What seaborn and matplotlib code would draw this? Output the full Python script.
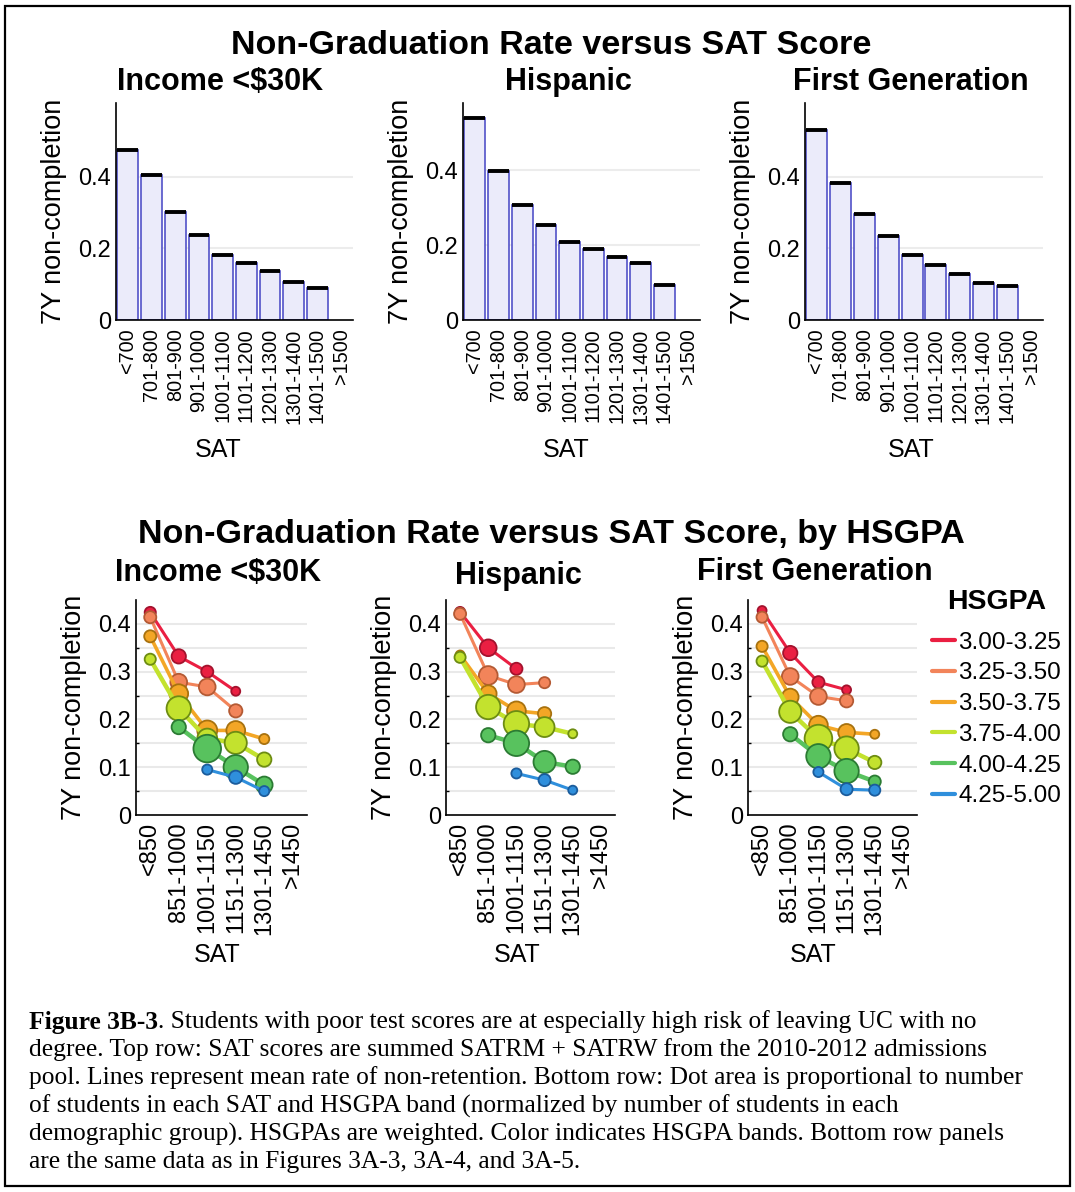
import numpy as np
import pandas as pd
import matplotlib
matplotlib.use('Agg')
import matplotlib.pyplot as plt
import seaborn as sns
from matplotlib.lines import Line2D
from matplotlib.patches import Rectangle

nan = np.nan

# ---- data ----
groups = ['Income <$30K', 'Hispanic', 'First Generation']

sat_top = ['<700', '701-800', '801-900', '901-1000', '1001-1100', '1101-1200',
           '1201-1300', '1301-1400', '1401-1500', '>1500']
inc_top = [0.473, 0.403, 0.301, 0.236, 0.180, 0.160, 0.138, 0.105, 0.090, nan]
his_top = [0.538, 0.397, 0.306, 0.253, 0.208, 0.190, 0.167, 0.151, 0.093, nan]
gen_top = [0.531, 0.382, 0.296, 0.235, 0.182, 0.154, 0.128, 0.103, 0.095, nan]

sat_bot = ['<850', '851-1000', '1001-1150', '1151-1300', '1301-1450', '>1450']
hsgpa = ['3.00-3.25', '3.25-3.50', '3.50-3.75', '3.75-4.00', '4.00-4.25', '4.25-5.00']

# non-completion rate, one row per HSGPA band
inc_rate = [
    [0.424, 0.332, 0.300, 0.259, nan, nan],
    [0.414, 0.278, 0.268, 0.218, nan, nan],
    [0.374, 0.254, 0.177, 0.177, 0.159, nan],
    [0.326, 0.223, 0.160, 0.151, 0.116, nan],
    [nan, 0.184, 0.139, 0.100, 0.063, nan],
    [nan, nan, 0.095, 0.079, 0.050, nan],
]
his_rate = [
    [0.425, 0.350, 0.306, nan, nan, nan],
    [0.421, 0.292, 0.273, 0.277, nan, nan],
    [0.335, 0.254, 0.218, 0.212, nan, nan],
    [0.330, 0.226, 0.191, 0.184, 0.170, nan],
    [nan, 0.167, 0.150, 0.111, 0.101, nan],
    [nan, nan, 0.087, 0.073, 0.052, nan],
]
gen_rate = [
    [0.428, 0.339, 0.278, 0.262, nan, nan],
    [0.414, 0.290, 0.248, 0.239, nan, nan],
    [0.353, 0.247, 0.188, 0.173, 0.169, nan],
    [0.322, 0.216, 0.160, 0.139, 0.110, nan],
    [nan, 0.169, 0.123, 0.092, 0.070, nan],
    [nan, nan, 0.090, 0.054, 0.052, nan],
]

# share of students (%) in each SAT x HSGPA cell -> dot area
inc_share = [
    [1.7, 2.8, 2.0, 1.1, nan, nan],
    [2.0, 3.8, 3.8, 2.4, nan, nan],
    [2.0, 4.8, 5.4, 4.8, 1.4, nan],
    [1.7, 8.1, 5.4, 6.7, 2.8, nan],
    [nan, 2.8, 10.4, 8.1, 3.8, nan],
    [nan, nan, 1.4, 2.4, 1.4, nan],
]
his_share = [
    [1.4, 3.8, 2.0, nan, nan, nan],
    [2.0, 4.8, 3.8, 1.7, nan, nan],
    [1.1, 3.8, 4.8, 2.4, nan, nan],
    [1.7, 8.1, 8.8, 5.4, 1.1, nan],
    [nan, 2.8, 8.8, 6.7, 2.8, nan],
    [nan, nan, 1.4, 2.0, 1.1, nan],
]
gen_share = [
    [1.1, 2.8, 2.0, 1.1, nan, nan],
    [1.7, 3.8, 3.8, 2.4, nan, nan],
    [1.7, 3.8, 4.8, 3.8, 1.1, nan],
    [1.7, 6.7, 10.4, 8.1, 2.4, nan],
    [nan, 2.8, 8.1, 8.1, 2.0, nan],
    [nan, nan, 1.4, 2.0, 1.7, nan],
]

caption_lines = [
    '. Students with poor test scores are at especially high risk of leaving UC with no',
    'degree. Top row: SAT scores are summed SATRM + SATRW from the 2010-2012 admissions',
    'pool. Lines represent mean rate of non-retention. Bottom row: Dot area is proportional to number',
    'of students in each SAT and HSGPA band (normalized by number of students in each',
    'demographic group). HSGPAs are weighted. Color indicates HSGPA bands. Bottom row panels',
    'are the same data as in Figures 3A-3, 3A-4, and 3A-5.',
]

# ---- style ----
fills = ['#ea1f42', '#f2845a', '#f3a626', '#c3e22e', '#58c25e', '#2f8fdc']
edges = ['#a3122d', '#b45a34', '#a8720f', '#6d8c12', '#2b7b33', '#1b5c9c']
line_w = [2.2, 2.2, 2.6, 3.2, 3.2, 2.2]

sns.set_theme(style='white')
plt.rcParams['font.family'] = ['Liberation Sans', 'DejaVu Sans']
plt.rcParams['axes.linewidth'] = 1.2
plt.rcParams['axes.edgecolor'] = 'black'
plt.rcParams['text.color'] = 'black'
plt.rcParams['axes.labelcolor'] = 'black'
plt.rcParams['xtick.color'] = 'black'
plt.rcParams['ytick.color'] = 'black'

W, H = 1075, 1192
fig = plt.figure(figsize=(W / 100, H / 100), dpi=100)


def box(x0, y0, x1, y1):
    return [x0 / W, 1 - y1 / H, (x1 - x0) / W, (y1 - y0) / H]


top_boxes = [box(116, 103, 353, 320), box(463, 103, 700, 320), box(805, 103, 1043, 320)]
bot_boxes = [box(136, 600, 307, 815), box(446, 600, 615, 815), box(748, 600, 917, 815)]
top_ymax = [0.605, 0.579, 0.605]
top_xlab = [0.43, 0.435, 0.445]
bot_xlab = [0.477, 0.42, 0.387]


def style_axes(ax):
    sns.despine(ax=ax)
    ax.tick_params(axis='both', direction='in', colors='black', length=4, width=1)
    ax.set_axisbelow(True)


# ---- top row: bars ----
for i, vals in enumerate([inc_top, his_top, gen_top]):
    ax = fig.add_axes(top_boxes[i])
    df = pd.DataFrame({'sat': sat_top, 'rate': vals})
    for g in [0.2, 0.4]:
        ax.axhline(g, color='#ececec', lw=1.5, zorder=0)
    sns.barplot(data=df, x='sat', y='rate', order=sat_top, color='#ebebfa',
                edgecolor='#5252c8', linewidth=1.2, width=0.88, saturation=1, ax=ax)
    pos = np.arange(len(sat_top))
    ok = ~np.isnan(np.array(vals, dtype=float))
    ax.hlines(np.array(vals)[ok], pos[ok] - 0.44, pos[ok] + 0.44, color='black', lw=2.8, zorder=5)
    ax.set_xlim(-0.5, len(sat_top) - 0.5)
    ax.set_ylim(0, top_ymax[i])
    ax.set_yticks([0, 0.2, 0.4], ['0', '0.2', '0.4'], fontsize=17)
    ax.set_xticks(pos, sat_top, rotation=90, fontsize=14.3)
    style_axes(ax)
    ax.tick_params(axis='x', length=0, pad=6)
    ax.set_xlabel('SAT', fontsize=18, va='center')
    ax.xaxis.set_label_coords(top_xlab[i], -0.60)
    ax.set_ylabel('7Y non-completion', fontsize=19.5, va='center')
    ax.yaxis.set_label_coords(-0.26, 0.5)

# ---- bottom row: dots by HSGPA ----
k_area = 38.0
for i, (rates, shares) in enumerate([(inc_rate, inc_share), (his_rate, his_share), (gen_rate, gen_share)]):
    ax = fig.add_axes(bot_boxes[i])
    for g in np.arange(0.05, 0.45, 0.05):
        ax.axhline(g, color='#e9e9e9', lw=1.5, zorder=0)
    for j, band in enumerate(hsgpa):
        d = pd.DataFrame({'pos': np.arange(len(sat_bot)), 'rate': rates[j], 'share': shares[j]}).dropna()
        sns.lineplot(data=d, x='pos', y='rate', color=fills[j], lw=line_w[j], ax=ax, zorder=2 + j)
        sns.scatterplot(data=d, x='pos', y='rate', size='share', sizes=(0, 12 * k_area),
                        size_norm=(0, 12), color=fills[j], edgecolor=edges[j], linewidth=1.3,
                        legend=False, ax=ax, zorder=2 + j)
    ax.set_xlim(-0.5, len(sat_bot) - 0.5)
    ax.set_ylim(0, 0.45)
    ax.set_yticks([0, 0.1, 0.2, 0.3, 0.4], ['0', '0.1', '0.2', '0.3', '0.4'], fontsize=17)
    ax.set_yticks(np.arange(0.05, 0.45, 0.1), minor=True)
    ax.set_xticks(range(len(sat_bot)), sat_bot, rotation=90, fontsize=17)
    style_axes(ax)
    ax.tick_params(axis='y', which='minor', direction='in', length=2.5, width=1, left=True)
    ax.tick_params(axis='x', length=3, pad=5)
    ax.set_xlabel('SAT', fontsize=18, va='center')
    ax.xaxis.set_label_coords(bot_xlab[i], -0.651)
    ax.set_ylabel('7Y non-completion', fontsize=19.5, va='center')
    ax.yaxis.set_label_coords(-0.365, 0.5)

# ---- titles ----
fig.text(551 / W, 1 - 45 / H, 'Non-Graduation Rate versus SAT Score', ha='center', va='center',
         fontsize=24.5, fontweight='bold')
fig.text(551 / W, 1 - 535 / H, 'Non-Graduation Rate versus SAT Score, by HSGPA', ha='center',
         va='center', fontsize=24.5, fontweight='bold')
for (x, y), name in zip([(220, 82), (568, 82), (911, 82)], groups):
    fig.text(x / W, 1 - y / H, name, ha='center', va='center', fontsize=22, fontweight='bold')
for (x, y), name in zip([(218, 573), (518, 576), (815, 572)], groups):
    fig.text(x / W, 1 - y / H, name, ha='center', va='center', fontsize=22, fontweight='bold')

# ---- legend ----
handles = [Line2D([], [], color=c, lw=3) for c in fills]
leg = fig.legend(handles, hsgpa, loc='upper left', bbox_to_anchor=(932 / W, 1 - 589 / H),
                 frameon=False, fontsize=17.5, title='HSGPA',
                 title_fontproperties={'weight': 'bold', 'size': 20.5},
                 handlelength=0.95, handletextpad=0.12, labelspacing=0.36,
                 borderpad=0, borderaxespad=0)
leg._legend_box.sep = 12

# ---- caption ----
renderer = fig.canvas.get_renderer()
serif = ['Liberation Serif', 'DejaVu Serif']
fs_cap = 18.4
y0 = 1022
t = fig.text(29 / W, 1 - y0 / H, 'Figure 3B-3', fontsize=fs_cap, fontweight='bold',
             family=serif, va='center')
x1 = t.get_window_extent(renderer=renderer).x1
fig.text(x1 / W, 1 - y0 / H, caption_lines[0], fontsize=fs_cap, family=serif, va='center')
for n, line in enumerate(caption_lines[1:], start=1):
    fig.text(29 / W, 1 - (y0 + 28 * n) / H, line, fontsize=fs_cap, family=serif, va='center')

# frame around the figure
fig.add_artist(Rectangle((5 / W, 1 - 1186 / H), 1065 / W, 1180 / H, transform=fig.transFigure,
                         fill=False, lw=1.6, ec='black'))

fig.savefig('out.png', dpi=100)
